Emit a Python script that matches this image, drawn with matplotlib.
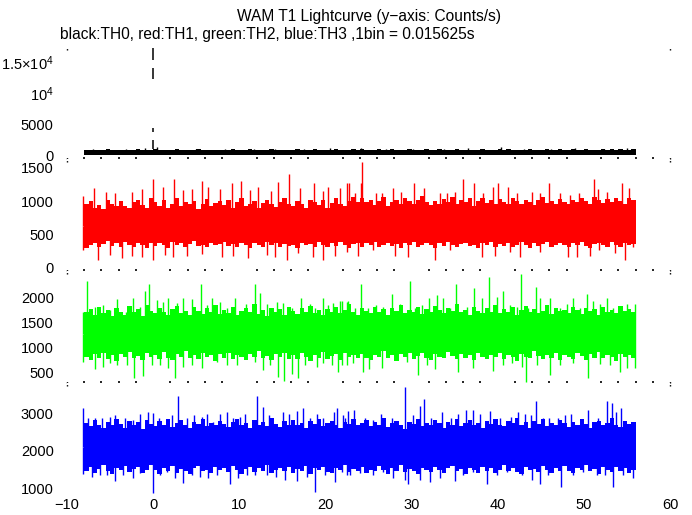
import matplotlib
matplotlib.use('Agg')
import matplotlib.pyplot as plt
import matplotlib.transforms as mtransforms
import numpy as np

plt.rcParams['font.family'] = ['Liberation Sans', 'DejaVu Sans']
plt.rcParams['mathtext.fontset'] = 'custom'
plt.rcParams['mathtext.rm'] = 'Liberation Sans'
plt.rcParams['mathtext.it'] = 'Liberation Sans'

title = 'WAM T1 Lightcurve (y\u2212axis: Counts/s)'
subtitle = 'black:TH0, red:TH1, green:TH2, blue:TH3 ,1bin = 0.015625s'

# envelope of each curve in 0.5 s steps from -8 s to 56 s (read by eye)
env_t = np.arange(-8.0, 56.01, 0.5)

th0_hi = [850, 920, 800, 900, 870, 950, 820, 890, 930, 860, 910, 840, 960, 880, 820, 900,
          980, 870, 920, 840, 900, 950, 830, 890, 920, 860, 940, 810, 900, 870, 930, 850,
          910, 840, 960, 880, 820, 900, 940, 860, 890, 830, 920, 950, 870, 900, 840, 930,
          880, 950, 860, 910, 830, 970, 890, 850, 920, 880, 940, 860, 900, 830, 950, 910,
          960, 880, 920, 850, 990, 900, 870, 940, 860, 920, 890, 970, 850, 910, 880, 940,
          900, 860, 950, 880, 920, 840, 970, 900, 870, 930, 860, 910, 990, 880, 920, 850,
          940, 890, 960, 870, 910, 850, 930, 980, 880, 920, 860, 950, 900, 870, 940, 910,
          880, 960, 910, 870, 950, 890, 930, 860, 980, 900, 940, 880, 960, 910, 870, 950,
          900]
th0_lo = [80, 50, 100, 60, 90, 40, 110, 70, 50, 90, 60, 100, 40, 80, 70, 50,
          60, 90, 40, 100, 70, 50, 110, 80, 60, 30, 90, 70, 50, 100, 80, 60,
          100, 70, 40, 90, 60, 110, 50, 80, 70, 40, 100, 60, 90, 50, 80, 70,
          50, 90, 70, 110, 60, 40, 80, 100, 50, 70, 90, 60, 40, 100, 80, 50,
          70, 110, 50, 80, 60, 90, 40, 100, 70, 50, 80, 110, 60, 90, 40, 70,
          90, 60, 100, 40, 80, 70, 50, 110, 60, 90, 70, 40, 100, 80, 50, 90,
          60, 80, 40, 100, 70, 50, 90, 60, 110, 80, 40, 70, 100, 50, 90, 60,
          80, 50, 100, 70, 40, 90, 60, 110, 70, 50, 80, 100, 60, 40, 90, 70,
          80]

th1_hi = [950, 1000, 900, 940, 880, 1010, 960, 920, 1000, 930, 890, 980, 1020, 940, 900, 1050,
          980, 930, 1010, 900, 960, 1040, 920, 990, 950, 1000, 880, 960, 1030, 920, 970, 1000,
          940, 1010, 900, 980, 1040, 930, 960, 1000, 890, 970, 1020, 950, 910, 990, 1050, 960,
          930, 1000, 960, 890, 1020, 980, 940, 1010, 900, 970, 1040, 960, 930, 1000, 1060, 980,
          1050, 990, 1010, 940, 1000, 1060, 930, 990, 1020, 960, 1040, 1000, 950, 1010, 1070, 980,
          940, 1000, 960, 1030, 980, 1060, 950, 1010, 990, 1040, 930, 1000, 1050, 970, 1010, 960,
          1030, 990, 950, 1050, 1000, 960, 1020, 980, 940, 1010, 1060, 970, 1000, 950, 1030, 990,
          960, 1020, 980, 1040, 1000, 950, 1060, 1010, 970, 1030, 990, 1050, 1000, 960, 1040, 1010,
          1000]
th1_lo = [300, 350, 380, 320, 360, 400, 330, 370, 310, 390, 350, 320, 380, 340, 300, 370,
          330, 380, 350, 300, 390, 340, 370, 320, 360, 400, 330, 350, 310, 380, 340, 360,
          390, 330, 360, 310, 370, 340, 300, 380, 350, 320, 390, 340, 370, 310, 360, 330,
          350, 300, 380, 340, 360, 320, 390, 350, 310, 370, 330, 390, 340, 300, 360, 380,
          320, 370, 340, 390, 310, 350, 380, 330, 360, 300, 370, 340, 390, 320, 350, 380,
          340, 300, 370, 330, 390, 350, 310, 360, 380, 330, 350, 300, 370, 340, 390, 320,
          360, 330, 380, 310, 350, 390, 340, 300, 370, 330, 360, 390, 320, 350, 380, 340,
          310, 370, 340, 390, 330, 300, 360, 380, 340, 320, 390, 350, 310, 370, 340, 360,
          350]

th2_hi = [1700, 1760, 1640, 1800, 1690, 1740, 1620, 1780, 1710, 1650, 1820, 1700, 1760, 1630, 1850, 1720,
          1680, 1790, 1710, 1640, 1760, 1820, 1690, 1730, 1650, 1800, 1720, 1670, 1780, 1700, 1840, 1660,
          1750, 1690, 1810, 1640, 1730, 1780, 1700, 1860, 1670, 1740, 1620, 1790, 1710, 1760, 1650, 1800,
          1720, 1660, 1780, 1700, 1830, 1690, 1750, 1640, 1770, 1710, 1800, 1680, 1740, 1860, 1700, 1650,
          1790, 1720, 1680, 1810, 1700, 1760, 1640, 1780, 1730, 1850, 1690, 1750, 1710, 1800, 1660, 1770,
          1700, 1820, 1740, 1680, 1790, 1720, 1860, 1700, 1750, 1640, 1800, 1730, 1690, 1780, 1710, 1840,
          1680, 1760, 1710, 1800, 1650, 1740, 1820, 1700, 1770, 1690, 1730, 1850, 1660, 1780, 1720, 1750,
          1690, 1810, 1740, 1660, 1790, 1720, 1760, 1640, 1800, 1700, 1750, 1680, 1830, 1720, 1770, 1700,
          1720]
th2_lo = [820, 760, 880, 800, 900, 780, 850, 740, 870, 810, 920, 790, 840, 760, 890, 820,
          860, 780, 910, 800, 750, 870, 820, 940, 790, 850, 770, 890, 810, 860, 740, 880,
          800, 900, 770, 850, 820, 750, 880, 810, 930, 790, 840, 760, 870, 820, 900, 780,
          850, 770, 890, 810, 740, 860, 800, 920, 780, 840, 870, 760, 900, 810, 850, 790,
          880, 800, 760, 860, 820, 930, 790, 850, 740, 870, 810, 890, 770, 840, 900, 800,
          760, 870, 820, 790, 910, 840, 770, 880, 800, 850, 750, 890, 820, 780, 860, 810,
          900, 780, 850, 810, 740, 880, 820, 790, 930, 840, 770, 860, 800, 890, 760, 850,
          820, 780, 900, 840, 760, 870, 800, 920, 790, 850, 810, 740, 880, 820, 860, 790,
          830]

th3_hi = [2750, 2650, 2820, 2700, 2600, 2780, 2680, 2850, 2720, 2620, 2800, 2690, 2760, 2580, 2830, 2710,
          2660, 2790, 2700, 2860, 2640, 2740, 2810, 2680, 2600, 2770, 2720, 2840, 2650, 2750, 2690, 2800,
          2710, 2630, 2780, 2850, 2690, 2740, 2600, 2820, 2700, 2760, 2660, 2880, 2720, 2640, 2790, 2700,
          2820, 2680, 2750, 2610, 2790, 2720, 2860, 2660, 2740, 2800, 2690, 2620, 2770, 2710, 2840, 2680,
          2740, 2810, 2650, 2760, 2700, 2880, 2640, 2730, 2800, 2690, 2590, 2780, 2720, 2850, 2670, 2750,
          2690, 2820, 2740, 2620, 2780, 2700, 2860, 2660, 2750, 2810, 2680, 2740, 2600, 2790, 2720, 2840,
          2700, 2650, 2800, 2730, 2870, 2680, 2760, 2620, 2790, 2710, 2840, 2660, 2750, 2690, 2810, 2730,
          2640, 2780, 2700, 2850, 2720, 2610, 2760, 2800, 2680, 2740, 2870, 2700, 2630, 2790, 2720, 2760,
          2700]
th3_lo = [1450, 1560, 1400, 1520, 1610, 1470, 1380, 1540, 1490, 1600, 1430, 1510, 1570, 1420, 1500, 1620,
          1480, 1390, 1550, 1460, 1590, 1420, 1520, 1470, 1370, 1540, 1600, 1450, 1500, 1410, 1560, 1490,
          1530, 1440, 1600, 1480, 1390, 1510, 1570, 1430, 1550, 1460, 1620, 1400, 1490, 1540, 1450, 1580,
          1420, 1510, 1470, 1600, 1380, 1530, 1490, 1560, 1440, 1400, 1550, 1480, 1610, 1430, 1520, 1460,
          1570, 1410, 1500, 1450, 1590, 1480, 1390, 1540, 1470, 1610, 1430, 1520, 1460, 1380, 1550, 1490,
          1440, 1560, 1480, 1400, 1530, 1600, 1450, 1510, 1370, 1550, 1490, 1420, 1580, 1470, 1530, 1410,
          1500, 1620, 1460, 1540, 1430, 1390, 1570, 1480, 1520, 1440, 1600, 1500, 1410, 1550, 1470, 1590,
          1460, 1400, 1530, 1480, 1610, 1450, 1520, 1380, 1560, 1490, 1430, 1570, 1470, 1540, 1420, 1500,
          1480]

# TH0: small spikes + the burst at t=0 (drawn broken in the original)
th0_up_t = [-7.0, -5.2, -3.1, -1.0, 0.4, 2.6, 5.0, 8.3, 11.7, 14.2, 17.5, 20.5, 24.1,
            27.0, 30.2, 33.8, 36.5, 40.35, 43.0, 46.2, 49.0, 52.3, 55.0]
th0_up_v = [1050, 1080, 1040, 1100, 1350, 1060, 1030, 1070, 1050, 1090, 1040, 1245, 1180,
            1060, 1090, 1050, 1100, 1290, 1060, 1090, 1100, 1070, 1100]
burst_t = 0.0
burst_lo = [1000, 3770, 12300, 15370]
burst_hi = [2430, 4370, 14080, 17300]

# TH1 (red) tall spikes and dips
th1_up_t = [-8.09, -6.83, -5.47, -4.43, -2.49, -1.33, 0.03, 1.19, 2.47, 3.43, 4.48, 5.64,
            6.42, 7.77, 9.13, 10.21, 11.26, 12.22, 13.69, 14.54, 15.78, 17.06, 18.72,
            19.69, 20.35, 21.70, 22.48, 22.78, 23.44, 24.10, 24.29, 25.88, 26.54, 27.89,
            28.74, 30.29, 31.49, 33.31, 34.08, 35.05, 36.02, 37.30, 38.34, 39.50, 40.08,
            41.24, 42.21, 43.95, 44.92, 46.00, 47.24, 48.40, 49.45, 51.23, 51.69, 52.66,
            54.44, 55.29]
th1_up_v = [1076, 1190, 1130, 1125, 1140, 1175, 1330, 1205, 1325, 1165, 1175, 1305,
            1215, 1175, 1265, 1300, 1165, 1215, 1155, 1290, 1400, 1190, 1275,
            1155, 1215, 1190, 1275, 1265, 1120, 1265, 1589, 1120, 1125, 1190,
            1140, 1265, 1190, 1115, 1125, 1140, 1325, 1275, 1115, 1215, 1265,
            1215, 1115, 1140, 1115, 1265, 1125, 1090, 1125, 1325, 1175, 1140,
            1265, 1200]
th1_dn_t = [-8.09, -6.44, -5.01, -3.65, -2.49, -1.33, -0.05, 1.38, 2.35, 3.90, 5.64, 7.96,
            9.32, 11.06, 13.19, 14.15, 15.59, 16.86, 18.60, 19.76, 21.12, 22.48, 23.83,
            25.57, 28.09, 29.63, 32.73, 34.47, 38.15, 39.70, 41.44, 42.60, 44.92, 48.21,
            49.25, 50.72, 51.81, 53.63, 54.83, 55.75]
th1_dn_v = [269, 120, 194, 144, 179, 169, 120, 194, 169, 179, 204, 169,
            179, 144, 194, 169, 120, 219, 169, 120, 179, 244, 179,
            269, 179, 169, 120, 269, 169, 179, 244, 169, 244, 159,
            159, 179, 269, 219, 120, 319]

# TH2 (green)
th2_up_t = [-8.10, -7.71, -6.75, -5.78, -5.01, -4.16, -3.15, -2.38, -1.52, -0.94, -0.44,
            0.41, 1.19, 1.77, 2.74, 3.51, 4.48, 5.56, 6.22, 6.88, 7.77, 8.62, 9.51, 10.78,
            11.83, 12.41, 13.18, 14.34, 15.12, 16.09, 17.17, 18.22, 18.80, 19.76, 20.35,
            20.92, 21.70, 22.67,
            21.89, 22.47, 23.44, 24.10, 24.99, 25.88, 26.73, 27.77, 28.66, 29.83, 30.41,
            31.18, 32.07, 32.92, 33.70, 34.47, 35.17, 36.41, 37.30, 38.15, 39.04, 39.89,
            40.59, 41.44, 42.21, 42.75, 43.57, 44.46, 44.92, 46.08, 47.24, 48.01, 48.79,
            49.56, 50.33, 51.11, 51.88, 52.73, 53.43, 54.20, 54.98, 55.94]
th2_up_v = [1713, 2319, 1811, 1844, 1746, 1963, 1713, 1976, 1811, 2121, 2260,
            1943, 1910, 1976, 1877, 1989, 1956, 2260, 1844, 1976, 1910, 1792, 1976, 1858,
            2260, 2075, 1858, 1910, 1877, 1778, 1976, 1858, 1792, 1989, 1844,
            1877, 1923, 1923,
            1923, 1910, 1778, 2260, 1792, 1844, 1811, 2055, 1858, 2325, 1792,
            1844, 1989, 2042, 1976, 1778, 2260, 1811, 2187, 1976, 2391, 2009,
            2121, 1844, 1811, 2457, 1778, 2194, 1989, 1976, 1792, 1858, 1989,
            1778, 2055, 1923, 1858, 1989, 1778, 1713, 1858, 1858]
th2_dn_t = [-8.10, -6.75, -5.78, -5.01, -4.16, -3.07, -2.18, -1.21, -0.17, 0.80, 1.77,
            2.54, 3.51, 4.48, 5.64, 7.38, 8.54, 9.70, 11.83, 12.80, 13.58, 14.54, 15.24,
            16.09, 16.79, 17.64, 18.99, 19.76, 20.73, 21.50, 22.48,
            21.89, 23.25, 24.41, 25.10, 26.54, 29.44, 30.79, 31.84, 32.73, 35.36, 37.18,
            39.50, 40.66, 41.63, 42.79, 43.29, 44.53, 46.08, 47.24, 48.79, 50.53, 51.88,
            53.05, 54.20, 54.98, 55.94]
th2_dn_v = [724, 579, 625, 691, 658, 658, 395, 441, 658, 658, 592,
            395, 625, 658, 592, 724, 658, 658, 724, 559, 658, 428, 342,
            474, 395, 658, 625, 691, 658, 526, 658,
            658, 691, 526, 579, 605, 724, 460, 658, 579, 513, 592,
            540, 658, 691, 625, 329, 658, 460, 658, 691, 395, 671,
            658, 526, 605, 592]

# TH3 (blue)
th3_up_t = [-8.10, -7.52, -6.75, -5.97, -5.01, -4.43, -3.26, -2.30, -1.52, -0.55, 0.03,
            0.72, 2.15, 2.93, 3.90, 4.75, 5.64, 6.22, 7.00, 7.77, 8.55, 9.32, 10.09, 10.67,
            12.02, 12.80, 13.50, 15.12, 15.82, 16.67, 17.44, 18.22, 18.99, 19.76, 21.31,
            22.08, 22.67,
            21.01, 22.25, 23.33, 24.57, 25.54, 26.50, 27.74, 29.29, 30.18, 30.96, 31.42,
            32.31, 33.59, 34.63, 35.40, 36.37, 37.15, 37.92, 39.08, 40.24, 41.60, 42.37,
            43.15, 43.92, 44.50, 45.27, 45.93, 47.02, 47.79, 48.56, 50.50, 51.66, 52.70,
            53.28, 53.78, 54.36]
th3_up_v = [3151, 2885, 2867, 2885, 2911, 2956, 2885, 2822, 2974, 3027, 3000,
            2885, 2956, 3462, 2885, 2956, 2911, 2974, 2778, 2974, 3045, 2885, 2911, 2974,
            3462, 3178, 2956, 3045, 2974, 3062, 3134, 2885, 2974, 2885, 3134,
            2956, 3062,
            3045, 2867, 3089, 2867, 2822, 2974, 2885, 3711, 2956, 3205, 3383,
            2867, 3045, 2867, 2974, 3089, 3089, 2974, 3062, 2885, 2911, 3045,
            2974, 2956, 3329, 2885, 2867, 2867, 2956, 2974, 3089, 2885, 3329,
            3267, 3045, 3134]
th3_dn_t = [-8.10, -7.13, -6.16, -5.31, -4.43, -3.46, -2.38, -1.52, 0.03, 0.80, 1.57,
            2.54, 3.43, 4.48, 5.44, 6.41, 7.38, 8.93, 9.90, 10.86, 11.83, 13.19, 14.27,
            15.31, 16.67, 17.83, 18.80, 19.96, 21.12, 22.48,
            21.89, 22.86, 24.02, 25.57, 26.73, 27.89, 29.25, 29.64, 30.98, 32.14, 33.31,
            35.05, 36.02, 37.18, 38.73, 39.88, 41.05, 42.79, 43.95, 44.92, 45.88, 47.35,
            48.79, 49.95, 51.50, 52.47, 53.35, 54.59, 55.75]
th3_dn_v = [1373, 1311, 1356, 1356, 1196, 1356, 1267, 1400, 867, 1356, 1444,
            1267, 1133, 1356, 1311, 1267, 1356, 1107, 1267, 1356, 1356, 1356, 1311,
            1222, 1196, 1311, 911, 1356, 1160, 1356,
            1444, 1356, 1400, 1356, 1444, 1267, 1222, 1107, 1222, 1178, 1267,
            1196, 1356, 1444, 1107, 1356, 1444, 1356, 1222, 1107, 1356, 1044,
            1356, 1444, 1356, 1356, 1044, 1356, 1267]

xticks = [-10, 0, 10, 20, 30, 40, 50, 60]
minor_x = list(range(-8, 59, 2))

panels = [
    # color, lo, hi, up_t, up_v, dn_t, dn_v, ylim, yticks, ylabels
    ('black', th0_lo, th0_hi, th0_up_t, th0_up_v, [], [], (-600, 17500),
     [0, 5000, 10000, 15000], ['0', '5000', r'$10^4$', r'$1.5{\times}10^4$']),
    ('#ff0000', th1_lo, th1_hi, th1_up_t, th1_up_v, th1_dn_t, th1_dn_v, (-45, 1630),
     [0, 500, 1000, 1500], ['0', '500', '1000', '1500']),
    ('#00ff00', th2_lo, th2_hi, th2_up_t, th2_up_v, th2_dn_t, th2_dn_v, (300, 2515),
     [500, 1000, 1500, 2000], ['500', '1000', '1500', '2000']),
    ('#0000ff', th3_lo, th3_hi, th3_up_t, th3_up_v, th3_dn_t, th3_dn_v, (820, 3810),
     [1000, 2000, 3000], ['1000', '2000', '3000']),
]

W, H = 692, 515
fig = plt.figure(figsize=(W / 100, H / 100), dpi=100)
left = 67 / W
width = (670 - 67) / W
tops = [47, 159, 271, 383]
ph = 112

axes = []
for i, (c, lo, hi, ut, uv, dt, dv, yl, yt, ylab) in enumerate(panels):
    ax = fig.add_axes([left, 1 - (tops[i] + ph) / H, width, ph / H])
    axes.append(ax)
    mid = (np.array(lo) + np.array(hi)) / 2
    ax.fill_between(env_t, lo, hi, step='post', color=c, lw=0)
    if len(ut):
        base = np.interp(ut, env_t, mid)
        ax.vlines(ut, base, uv, color=c, lw=1.0)
    if len(dt):
        base = np.interp(dt, env_t, mid)
        ax.vlines(dt, dv, base, color=c, lw=1.0)
    ax.set_xlim(-10, 60)
    ax.set_ylim(*yl)
    ax.set_yticks(yt)
    ax.set_yticklabels(ylab)
    for s in ax.spines.values():
        s.set_visible(False)
    ax.tick_params(axis='y', length=0, pad=9.5, labelsize=10.5)
    ax.set_xticks(xticks)
    if i < 3:
        ax.set_xticks(minor_x, minor=True)
        ax.tick_params(axis='x', which='major', length=0, labelbottom=False)
        ax.tick_params(axis='x', which='minor', direction='in', length=1.5,
                       width=1.2, color='black')
    else:
        ax.tick_params(axis='x', length=0, pad=2.5, labelsize=10.5)
    # little dotted marks at the panel corners
    tr = mtransforms.blended_transform_factory(ax.transData, ax.transAxes)
    for xe in (-10, 60):
        ax.plot([xe, xe], [0.97, 1.0], transform=tr, color='black', lw=1,
                ls=(0, (1, 2)), clip_on=False)
        if i < 3:
            ax.plot([xe, xe], [0.0, 0.03], transform=tr, color='black', lw=1,
                    ls=(0, (1, 2)), clip_on=False)

# TH0 burst at t=0
ax0 = axes[0]
ax0.vlines([burst_t] * len(burst_lo), burst_lo, burst_hi, color='black', lw=1.1)

fig.text((67 + 670) / 2 / W, 1 - 17 / H, title, ha='center', va='center', fontsize=11.2)
fig.text(60 / W, 1 - 34 / H, subtitle, ha='left', va='center', fontsize=11.2)

fig.savefig('out.png', dpi=100)
